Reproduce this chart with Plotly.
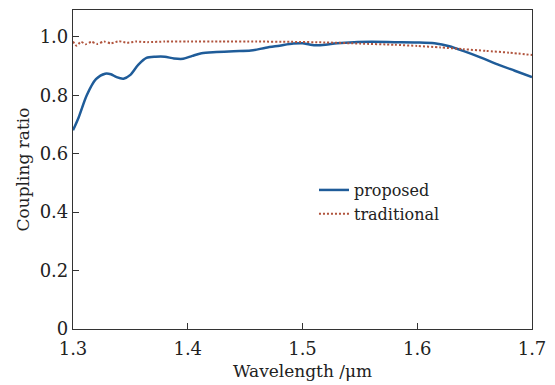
import plotly.graph_objects as go

# proposed
wl_prop = [1.300, 1.305, 1.312, 1.320, 1.328, 1.333, 1.338, 1.344, 1.350, 1.357, 1.364, 1.372, 1.380,
           1.388, 1.396, 1.404, 1.412, 1.425, 1.440, 1.455, 1.468, 1.480, 1.492, 1.500, 1.506,
           1.512, 1.520, 1.530, 1.545, 1.560, 1.580, 1.600, 1.615, 1.628, 1.640, 1.655, 1.670,
           1.685, 1.700]
cr_prop = [0.680, 0.725, 0.800, 0.855, 0.874, 0.872, 0.862, 0.857, 0.870, 0.905, 0.928, 0.932, 0.932,
           0.926, 0.925, 0.935, 0.944, 0.948, 0.951, 0.953, 0.963, 0.970, 0.977, 0.978, 0.974,
           0.971, 0.973, 0.978, 0.982, 0.983, 0.982, 0.981, 0.978, 0.968, 0.952, 0.930, 0.906,
           0.884, 0.862]

# traditional
wl_trad = [1.300, 1.303, 1.307, 1.311, 1.316, 1.321, 1.327, 1.333, 1.340, 1.347, 1.355, 1.365,
           1.380, 1.400, 1.430, 1.460, 1.490, 1.520, 1.550, 1.580, 1.600, 1.620, 1.640, 1.660,
           1.680, 1.700]
cr_trad = [0.984, 0.970, 0.983, 0.975, 0.983, 0.976, 0.984, 0.978, 0.985, 0.980, 0.984, 0.982,
           0.984, 0.984, 0.984, 0.984, 0.983, 0.981, 0.977, 0.973, 0.969, 0.964, 0.958, 0.952,
           0.946, 0.938]

x_ticks = [1.3, 1.4, 1.5, 1.6, 1.7]
y_ticks = [0, 0.2, 0.4, 0.6, 0.8, 1.0]
y_tick_text = ["0", "0.2", "0.4", "0.6", "0.8", "1.0"]

font_family = "DejaVu Serif"

fig = go.Figure()
fig.add_trace(go.Scatter(x=wl_prop, y=cr_prop, mode="lines", name="proposed",
                         line=dict(color="#1f5c99", width=2.5, shape="spline", smoothing=0.8)))
fig.add_trace(go.Scatter(x=wl_trad, y=cr_trad, mode="lines", name="traditional",
                         line=dict(color="#b0533c", width=2, dash="2px,2px", shape="spline", smoothing=0.6)))

fig.update_layout(
    width=547, height=377,
    margin=dict(l=65, r=23, t=2, b=56),
    paper_bgcolor="white", plot_bgcolor="white",
    font=dict(family=font_family, size=17, color="#222222"),
    showlegend=True,
    legend=dict(x=0.525, y=0.398, xanchor="left", yanchor="middle", bgcolor="rgba(0,0,0,0)",
                font=dict(size=16), itemwidth=30, tracegroupgap=0),
    xaxis=dict(range=[1.3, 1.7], tickvals=x_ticks, ticktext=[f"{v:.1f}" for v in x_ticks],
               ticks="inside", ticklen=6, tickcolor="#333", showline=True, linecolor="#333",
               linewidth=1.2, mirror=True, showgrid=False, zeroline=False, automargin=False,
               tickfont=dict(size=18), ticklabelstandoff=3),
    yaxis=dict(range=[0, 1.092], tickvals=y_ticks, ticktext=y_tick_text,
               ticks="inside", ticklen=6, tickcolor="#333", showline=True, linecolor="#333",
               linewidth=1.2, mirror=True, showgrid=False, zeroline=False, automargin=False,
               tickfont=dict(size=18)),
    annotations=[
        dict(text="Wavelength /\u03bcm", xref="paper", yref="paper", x=0.5, y=0,
             xanchor="center", yanchor="top", yshift=-30, showarrow=False, font=dict(size=17)),
        dict(text="Coupling ratio", xref="paper", yref="paper", x=0, y=0.5,
             xanchor="center", yanchor="middle", xshift=-51, textangle=-90, showarrow=False,
             font=dict(size=17)),
    ],
)

fig.write_html("out.html")
